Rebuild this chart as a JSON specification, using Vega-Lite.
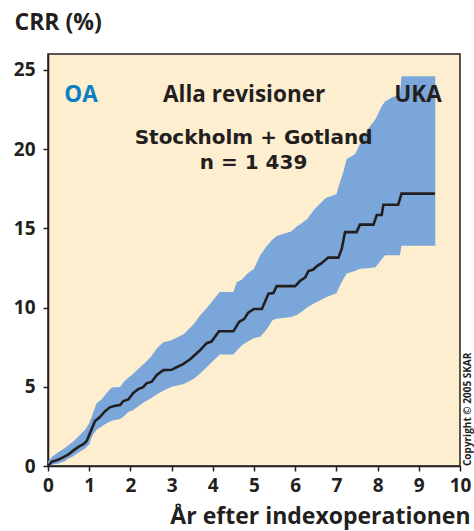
{
  "$schema": "https://vega.github.io/schema/vega-lite/v6.json",
  "width": 412,
  "height": 412,
  "autosize": {"type": "none"},
  "padding": {"left": 48, "top": 54, "right": 14, "bottom": 65},
  "background": "#ffffff",
  "config": {
    "font": "Open Sans",
    "view": {"fill": "#fdeecf", "stroke": "#231f20", "strokeWidth": 1.5},
    "axis": {
      "domainColor": "#231f20", "domainWidth": 1.5, "tickColor": "#231f20", "tickWidth": 1.5, "tickSize": 5,
      "labelFont": "Open Sans", "labelFontWeight": "bold", "labelFontSize": 19, "labelColor": "#231f20",
      "labelFlush": false, "labelOverlap": false,
      "titleFont": "Open Sans", "titleFontWeight": "bold", "titleFontSize": 23, "titleColor": "#231f20",
      "grid": false
    }
  },
  "datasets": {
    "band": [
      {"x": 0, "lo": 0, "hi": 0.3}, {"x": 0.1, "lo": 0.08, "hi": 0.58}, {"x": 0.25, "lo": 0.16, "hi": 0.87},
      {"x": 0.4, "lo": 0.3, "hi": 1.12}, {"x": 0.5, "lo": 0.48, "hi": 1.32}, {"x": 0.6, "lo": 0.6, "hi": 1.52},
      {"x": 0.75, "lo": 0.86, "hi": 1.9}, {"x": 0.9, "lo": 1.1, "hi": 2.29}, {"x": 1.0, "lo": 1.35, "hi": 2.7},
      {"x": 1.06, "lo": 1.82, "hi": 3.1}, {"x": 1.1, "lo": 2.0, "hi": 3.4}, {"x": 1.18, "lo": 2.29, "hi": 3.96},
      {"x": 1.3, "lo": 2.5, "hi": 4.2}, {"x": 1.42, "lo": 2.7, "hi": 4.61}, {"x": 1.55, "lo": 2.85, "hi": 4.95},
      {"x": 1.75, "lo": 2.97, "hi": 4.98}, {"x": 1.85, "lo": 3.15, "hi": 5.35}, {"x": 1.95, "lo": 3.4, "hi": 5.57},
      {"x": 2.05, "lo": 3.5, "hi": 5.77}, {"x": 2.2, "lo": 3.78, "hi": 6.15}, {"x": 2.35, "lo": 4.05, "hi": 6.5},
      {"x": 2.5, "lo": 4.27, "hi": 6.9}, {"x": 2.65, "lo": 4.55, "hi": 7.45}, {"x": 2.8, "lo": 4.75, "hi": 7.81},
      {"x": 3.0, "lo": 5.0, "hi": 7.93}, {"x": 3.3, "lo": 5.18, "hi": 8.33}, {"x": 3.55, "lo": 5.52, "hi": 9.0},
      {"x": 3.7, "lo": 5.85, "hi": 9.53}, {"x": 3.85, "lo": 6.23, "hi": 9.95}, {"x": 4.05, "lo": 6.73, "hi": 10.6},
      {"x": 4.17, "lo": 7.04, "hi": 10.98}, {"x": 4.5, "lo": 7.04, "hi": 10.98}, {"x": 4.58, "lo": 7.27, "hi": 11.59},
      {"x": 4.7, "lo": 7.6, "hi": 11.75}, {"x": 4.85, "lo": 7.85, "hi": 12.17}, {"x": 5.0, "lo": 8.07, "hi": 12.45},
      {"x": 5.15, "lo": 8.15, "hi": 13.3}, {"x": 5.3, "lo": 8.6, "hi": 13.85}, {"x": 5.45, "lo": 9.2, "hi": 14.3},
      {"x": 5.55, "lo": 9.3, "hi": 14.52}, {"x": 5.9, "lo": 9.4, "hi": 14.8}, {"x": 6.05, "lo": 9.55, "hi": 15.15},
      {"x": 6.15, "lo": 9.72, "hi": 15.3}, {"x": 6.3, "lo": 10.02, "hi": 15.6}, {"x": 6.45, "lo": 10.25, "hi": 16.15},
      {"x": 6.6, "lo": 10.45, "hi": 16.55}, {"x": 6.75, "lo": 10.65, "hi": 16.93}, {"x": 7.0, "lo": 10.9, "hi": 17.15},
      {"x": 7.09, "lo": 11.4, "hi": 17.96}, {"x": 7.17, "lo": 11.8, "hi": 18.57}, {"x": 7.25, "lo": 12.15, "hi": 19.38},
      {"x": 7.45, "lo": 12.3, "hi": 19.68}, {"x": 7.57, "lo": 12.45, "hi": 20.3}, {"x": 7.75, "lo": 12.48, "hi": 21.2},
      {"x": 7.95, "lo": 12.55, "hi": 21.9}, {"x": 8.1, "lo": 13.05, "hi": 22.7}, {"x": 8.18, "lo": 13.3, "hi": 23.0},
      {"x": 8.38, "lo": 13.3, "hi": 23.3}, {"x": 8.54, "lo": 13.3, "hi": 23.4}, {"x": 8.58, "lo": 13.9, "hi": 24.6},
      {"x": 9.4, "lo": 13.9, "hi": 24.6}
    ],
    "crr": [
      {"x": 0, "y": 0}, {"x": 0.09, "y": 0.26}, {"x": 0.21, "y": 0.36}, {"x": 0.33, "y": 0.5}, {"x": 0.41, "y": 0.61},
      {"x": 0.49, "y": 0.71}, {"x": 0.61, "y": 0.97}, {"x": 0.74, "y": 1.21}, {"x": 0.86, "y": 1.38}, {"x": 0.94, "y": 1.58},
      {"x": 1.02, "y": 2.08}, {"x": 1.14, "y": 2.83}, {"x": 1.26, "y": 3.09}, {"x": 1.38, "y": 3.44}, {"x": 1.5, "y": 3.7},
      {"x": 1.63, "y": 3.8}, {"x": 1.75, "y": 3.84}, {"x": 1.83, "y": 4.1}, {"x": 1.95, "y": 4.2}, {"x": 2.07, "y": 4.61},
      {"x": 2.19, "y": 4.85}, {"x": 2.31, "y": 4.98}, {"x": 2.39, "y": 5.22}, {"x": 2.52, "y": 5.32}, {"x": 2.64, "y": 5.75},
      {"x": 2.8, "y": 6.05}, {"x": 3.0, "y": 6.07}, {"x": 3.12, "y": 6.23}, {"x": 3.28, "y": 6.43}, {"x": 3.45, "y": 6.74},
      {"x": 3.69, "y": 7.3}, {"x": 3.85, "y": 7.75}, {"x": 3.97, "y": 7.85}, {"x": 4.15, "y": 8.5}, {"x": 4.5, "y": 8.5},
      {"x": 4.64, "y": 9.1}, {"x": 4.76, "y": 9.27}, {"x": 4.86, "y": 9.67}, {"x": 5.0, "y": 9.91}, {"x": 5.19, "y": 9.91},
      {"x": 5.27, "y": 10.38}, {"x": 5.35, "y": 10.88}, {"x": 5.47, "y": 10.92}, {"x": 5.55, "y": 11.35}, {"x": 6.0, "y": 11.35},
      {"x": 6.12, "y": 11.69}, {"x": 6.24, "y": 11.89}, {"x": 6.32, "y": 12.3}, {"x": 6.44, "y": 12.4}, {"x": 6.52, "y": 12.6},
      {"x": 6.64, "y": 12.8}, {"x": 6.8, "y": 13.15}, {"x": 7.05, "y": 13.15}, {"x": 7.13, "y": 13.71}, {"x": 7.21, "y": 14.76},
      {"x": 7.49, "y": 14.76}, {"x": 7.57, "y": 15.23}, {"x": 7.9, "y": 15.23}, {"x": 7.98, "y": 15.84}, {"x": 8.1, "y": 15.84},
      {"x": 8.14, "y": 16.49}, {"x": 8.5, "y": 16.49}, {"x": 8.58, "y": 17.19}, {"x": 9.39, "y": 17.19}
    ],
    "labels": [
      {"text": "Alla revisioner", "x": 4.76, "y": 22.98},
      {"text": "UKA", "x": 8.98, "y": 22.98}
    ],
    "place": [
      {"text": ["Stockholm + Gotland", "n = 1 439"], "x": 4.99, "y": 20.3}
    ],
    "oa": [{"text": "OA", "x": 0.8, "y": 23.0}],
    "copy": [{"text": "Copyright © 2005 SKAR", "x": 10.2, "y": 0}]
  },
  "layer": [
    {
      "data": {"name": "band"},
      "mark": {"type": "area", "color": "#7ba6da", "opacity": 1},
      "encoding": {
        "x": {"field": "x", "type": "quantitative", "scale": {"domain": [0, 10]},
              "axis": {"values": [0,1,2,3,4,5,6,7,8,9,10], "title": "År efter indexoperationen", "labelPadding": 5, "labelFlush": false,
                       "titleX": 422, "titleY": 57, "titleAlign": "right", "titleAnchor": null, "titleBaseline": "alphabetic"}},
        "y": {"field": "hi", "type": "quantitative", "scale": {"domain": [0, 25]},
              "axis": {"values": [0,5,10,15,20,25], "title": "CRR (%)", "labelPadding": 8, "labelFlush": false, "titleAngle": 0,
                       "titleX": -34, "titleY": -25, "titleAlign": "left", "titleBaseline": "alphabetic"}},
        "y2": {"field": "lo"}
      }
    },
    {
      "data": {"name": "crr"},
      "mark": {"type": "line", "color": "#231f20", "strokeWidth": 2.6},
      "encoding": {
        "x": {"field": "x", "type": "quantitative"},
        "y": {"field": "y", "type": "quantitative"}
      }
    },
    {
      "data": {"name": "labels"},
      "mark": {"type": "text", "font": "Open Sans", "fontWeight": "bold", "fontSize": 22.5, "color": "#231f20", "baseline": "alphabetic", "align": "center"},
      "encoding": {
        "x": {"field": "x", "type": "quantitative"},
        "y": {"field": "y", "type": "quantitative"},
        "text": {"field": "text"}
      }
    },
    {
      "data": {"name": "place"},
      "mark": {"type": "text", "font": "DejaVu Sans", "fontWeight": "bold", "fontSize": 20, "lineHeight": 24.5, "color": "#231f20", "baseline": "alphabetic", "align": "center"},
      "encoding": {
        "x": {"field": "x", "type": "quantitative"},
        "y": {"field": "y", "type": "quantitative"},
        "text": {"field": "text"}
      }
    },
    {
      "data": {"name": "oa"},
      "mark": {"type": "text", "font": "Open Sans", "fontWeight": "bold", "fontSize": 22.5, "color": "#0a7fc6", "baseline": "alphabetic", "align": "center"},
      "encoding": {
        "x": {"field": "x", "type": "quantitative"},
        "y": {"field": "y", "type": "quantitative"},
        "text": {"field": "text"}
      }
    },
    {
      "data": {"name": "copy"},
      "mark": {"type": "text", "font": "Open Sans", "fontWeight": "bold", "fontSize": 10, "color": "#231f20", "angle": 270, "baseline": "middle", "align": "left", "clip": false},
      "encoding": {
        "x": {"field": "x", "type": "quantitative"},
        "y": {"field": "y", "type": "quantitative"},
        "text": {"field": "text"}
      }
    }
  ]
}
